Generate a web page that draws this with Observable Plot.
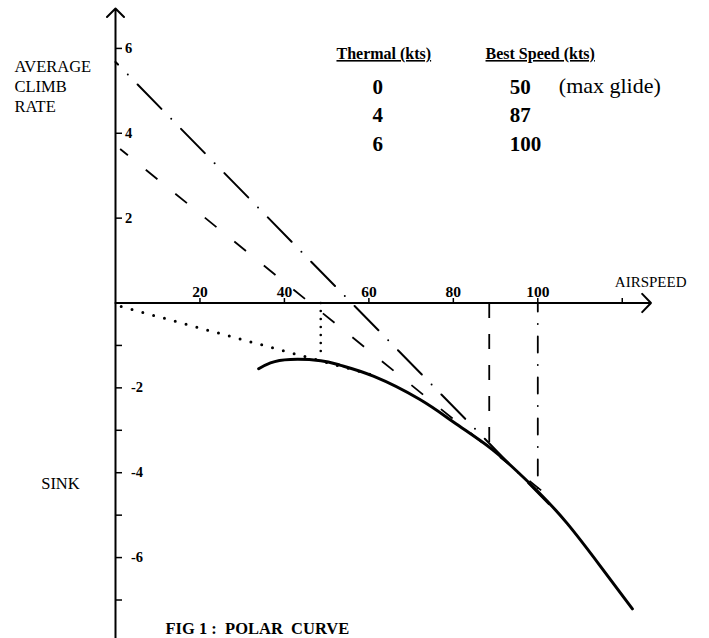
<!DOCTYPE html>
<html>
<head>
<meta charset="utf-8">
<script src="https://cdn.jsdelivr.net/npm/d3@7"></script>
<script src="https://cdn.jsdelivr.net/npm/@observablehq/plot@0.6"></script>
<style>
  html, body { margin: 0; padding: 0; background: #ffffff; }
  #chart svg { display: block; }
</style>
</head>
<body>
<div id="chart"></div>
<script>
// ---- Data ----
// Polar curve (airspeed in kts, sink in kts)
const polarSpeed = [33.9, 36.7, 41.4, 48.6, 53.3, 61.2, 72.0, 80.1, 88.0, 93.6, 99.9, 107.0, 114.8, 122.4];
const polarSink  = [-1.55, -1.41, -1.33, -1.36, -1.47, -1.73, -2.27, -2.81, -3.36, -3.83, -4.43, -5.20, -6.20, -7.21];

// Table
const thermals   = [0, 4, 6];
const bestSpeeds = [50, 87, 100];

// Tangent lines (one per thermal strength): start / end points
const tangentStartSpeed = [1.35, 1.1, 0];
const tangentStartClimb = [-0.085, 3.63, 5.68];
const tangentEndSpeed   = [62.1, 103.7, 102.6];
const tangentEndClimb   = [-1.73, -4.65, -4.74];

// Drop lines from the axis to each tangent point
const dropSpeed = [48.6, 88.5, 100];
const dropClimb = [-1.30, -3.35, -4.40];

// Axes ticks and labels
const xTickValues = [20, 40, 60, 80, 100, 120];
const xTickLabels = ["20", "40", "60", "80", "100"];
const yTickValues = [6, 4, 2, -1, -2, -3, -4, -5, -6, -7];
const yPosLabels  = ["6", "4", "2"];
const yNegLabels  = ["-2", "-4", "-6"];
const xAxisEnd = 126.8;   // arrow tip of airspeed axis
const yAxisTop = 6.94;    // arrow tip of climb axis
const yAxisBottom = -7.95;

// ---- Build tables ----
const polar = polarSpeed.map((s, i) => ({speed: s, sink: polarSink[i]}));
const tangents = thermals.map((t, i) => ({
  thermal: t, x1: tangentStartSpeed[i], y1: tangentStartClimb[i],
  x2: tangentEndSpeed[i], y2: tangentEndClimb[i]
}));
const drops = thermals.map((t, i) => ({thermal: t, x: dropSpeed[i], y1: 0, y2: dropClimb[i]}));
const xLabels = xTickLabels.map(t => ({v: +t, t}));
const yPos = yPosLabels.map(t => ({v: +t, t}));
const yNeg = yNegLabels.map(t => ({v: +t, t}));

const serif = "'Liberation Serif', 'Times New Roman', Times, serif";
const W = 709, H = 638;

function tangentMark(thermal, opts) {
  return Plot.link(tangents.filter(d => d.thermal === thermal),
    Object.assign({x1: "x1", y1: "y1", x2: "x2", y2: "y2", stroke: "black"}, opts));
}
function dropMark(thermal, opts) {
  return Plot.link(drops.filter(d => d.thermal === thermal),
    Object.assign({x1: "x", y1: "y1", x2: "x", y2: "y2", stroke: "black"}, opts));
}
function label(text, dx, dy, opts) {
  return Plot.text([text], Object.assign({
    frameAnchor: "top-left", dx, dy, text: d => d,
    textAnchor: "start", lineAnchor: "bottom", fontSize: 16.5
  }, opts));
}

const chart = Plot.plot({
  width: W,
  height: H,
  marginLeft: 0, marginRight: 0, marginTop: 0, marginBottom: 0,
  style: {background: "white", fontFamily: serif, color: "black"},
  x: {domain: [-27.232, 140.658], axis: null},
  y: {domain: [-7.9072, 7.1294], axis: null},
  marks: [
    // axes
    Plot.arrow([{}], {x1: 0, y1: 0, x2: xAxisEnd, y2: 0, stroke: "black", strokeWidth: 2, headLength: 9.5, headAngle: 92}),
    Plot.arrow([{}], {x1: 0, y1: yAxisBottom, x2: 0, y2: yAxisTop, stroke: "black", strokeWidth: 2, headLength: 9, headAngle: 90}),
    Plot.ruleX(xTickValues, {x: d => d, y1: 0, y2: 0, insetTop: -4.5, stroke: "black", strokeWidth: 1.5}),
    Plot.ruleY(yTickValues, {y: d => d, x1: 0, x2: 0, insetRight: -7, stroke: "black", strokeWidth: 1.5}),
    Plot.text(xLabels, {x: "v", y: 0, text: "t", dy: -6, lineAnchor: "bottom", fontWeight: "bold", fontSize: 15.5}),
    Plot.text(yPos, {x: 0, y: "v", text: "t", dx: 9.5, textAnchor: "start", lineAnchor: "middle", fontWeight: "bold", fontSize: 14.5}),
    Plot.text(yNeg, {x: 0, y: "v", text: "t", dx: 15.5, textAnchor: "start", lineAnchor: "middle", fontWeight: "bold", fontSize: 14.5}),

    // tangent lines
    tangentMark(0, {strokeWidth: 3, strokeDasharray: "0 11.2", strokeLinecap: "round"}),
    tangentMark(4, {strokeWidth: 1.8, strokeDasharray: "15 23", strokeDashoffset: 5}),
    tangentMark(6, {strokeWidth: 2, strokeDasharray: "34 14 0 14", strokeDashoffset: 30.4, strokeLinecap: "round"}),

    // drop lines
    dropMark(0, {strokeWidth: 2.6, strokeDasharray: "0 8", strokeLinecap: "round"}),
    dropMark(4, {strokeWidth: 1.8, strokeDasharray: "15 16"}),
    dropMark(6, {strokeWidth: 1.8, strokeDasharray: "16 12.5 0 12.5", strokeDashoffset: 7.5, strokeLinecap: "round"}),

    // polar curve
    Plot.line(polar, {x: "speed", y: "sink", curve: "natural", stroke: "black", strokeWidth: 3, strokeLinecap: "round"}),

    // axis titles
    label("AVERAGE\nCLIMB\nRATE", 14, 111, {lineHeight: 1.212}),
    label("SINK", 40.7, 488.3),
    label("AIRSPEED", 614.3, 286.7, {fontSize: 15}),

    // table
    label("Thermal (kts)", 383.3, 58.5, {textAnchor: "middle", fontWeight: "bold", fontSize: 16}),
    label("Best Speed (kts)", 539.7, 58.5, {textAnchor: "middle", fontWeight: "bold", fontSize: 16}),
    label(thermals.join("\n"), 377.2, 150, {textAnchor: "middle", fontWeight: "bold", fontSize: 21, lineHeight: 1.35}),
    label(bestSpeeds.join("\n"), 509.3, 150, {fontWeight: "bold", fontSize: 21, lineHeight: 1.35}),
    label("(max glide)", 558.3, 92.3, {fontSize: 22}),

    // caption
    label("FIG 1 :\u00A0 POLAR\u00A0 CURVE", 165, 633, {fontWeight: "bold", fontSize: 16.5})
  ]
});

d3.select(chart).selectAll("text")
  .filter(function() { return this.textContent.includes("(kts)"); })
  .style("text-decoration", "underline");

document.getElementById("chart").appendChild(chart);
</script>
</body>
</html>
